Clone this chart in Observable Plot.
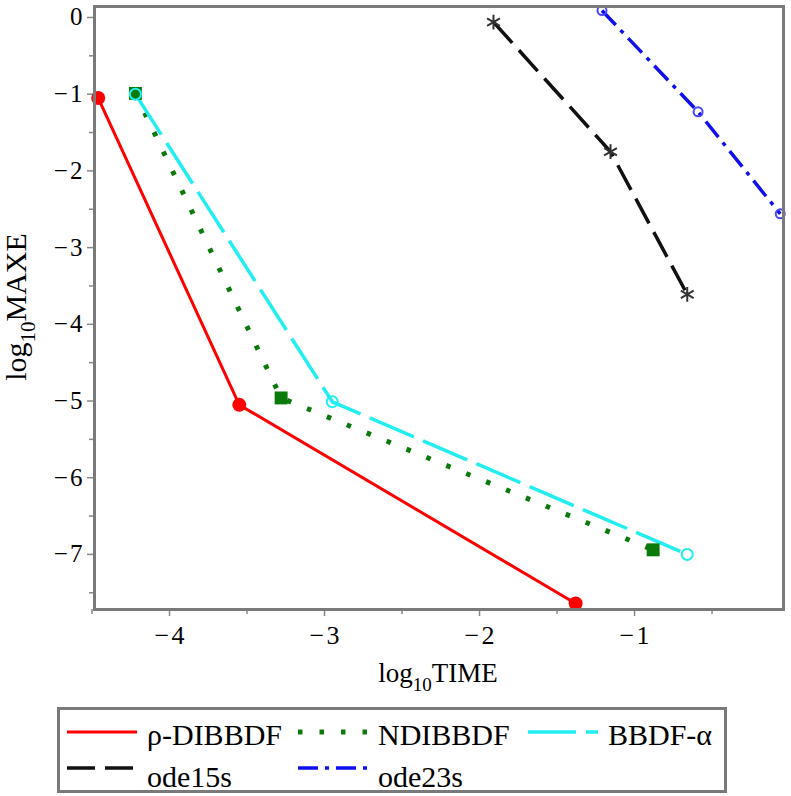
<!DOCTYPE html>
<html><head><meta charset="utf-8">
<script src="https://cdn.jsdelivr.net/npm/d3@7"></script>
<script src="https://cdn.jsdelivr.net/npm/@observablehq/plot@0.6"></script>
<style>
body{margin:0;background:#fff;}
#wrap{position:relative;width:791px;height:796px;overflow:hidden;}
#legend{position:absolute;left:57px;top:707px;width:670px;height:86px;box-sizing:border-box;border:3px solid #7a7a7a;}
svg text{font-family:"Liberation Serif","Times New Roman",serif !important;}
</style></head><body><div id="wrap"></div>
<script>
// Series names
const methods = ["ρ-DIBBDF", "NDIBBDF", "BBDF-α", "ode15s", "ode23s"];
// log10 TIME (x) and log10 MAXE (y) per method
const rhoTime  = [-4.46, -3.55, -1.38];
const rhoErr   = [-1.05, -5.05, -7.64];
const ndiTime  = [-4.22, -3.28, -0.88];
const ndiErr   = [-0.99, -4.96, -6.94];
const bbdfTime = [-4.22, -2.95, -0.66];
const bbdfErr  = [-1.00, -5.01, -7.00];
const o15Time  = [-1.91, -1.155, -0.66];
const o15Err   = [-0.06, -1.75, -3.61];
const o23Time  = [-1.21, -0.59, -0.06];
const o23Err   = [0.09, -1.23, -2.56];
// Axis ticks
const xTicks = [-4, -3, -2, -1];
const xMinor = [-4.5, -3.5, -2.5, -1.5, -0.5];
const yTicks = [0, -1, -2, -3, -4, -5, -6, -7];
const yMinor = [-0.5, -1.5, -2.5, -3.5, -4.5, -5.5, -6.5, -7.5];

const mk = (t, e, name) => t.map((x, i) => ({x, y: e[i], name}));
const rho = mk(rhoTime, rhoErr, methods[0]);
const ndi = mk(ndiTime, ndiErr, methods[1]);
const bbdf = mk(bbdfTime, bbdfErr, methods[2]);
const o15 = mk(o15Time, o15Err, methods[3]);
const o23 = mk(o23Time, o23Err, methods[4]);

const FONT = "'Liberation Serif', 'Times New Roman', serif";
const RED = "#ff0000", GREEN = "#0a7a0a", CYAN = "#22eef2", BLACK = "#111", BLUE = "#1010ee";
const fmt = d => d === 0 ? "0" : "\u2212\u200A" + Math.abs(d);

const plot = Plot.plot({
  width: 791, height: 700,
  marginLeft: 94, marginRight: 8, marginTop: 6, marginBottom: 91,
  style: {fontFamily: FONT, fontSize: "26px", color: "#000", background: "#fff"},
  x: {domain: [-4.484, -0.039]},
  y: {domain: [-7.718, 0.143]},
  marks: [
    Plot.axisX({ticks: xMinor, tickSize: 5, text: null, stroke: "#888", strokeWidth: 1.5, label: null}),
    Plot.axisX({ticks: xTicks, tickSize: 7, tickPadding: 9, tickFormat: fmt, stroke: "#888", strokeWidth: 1.5, fontSize: 26, label: null}),
    Plot.axisY({ticks: yMinor.filter(v => v > -7.7), tickSize: 5, text: null, stroke: "#888", strokeWidth: 1.5, label: null}),
    Plot.axisY({ticks: yTicks, tickSize: 7, tickPadding: 5, tickFormat: fmt, stroke: "#888", strokeWidth: 1.5, fontSize: 25, label: null}),
    Plot.line(rho, {x: "x", y: "y", stroke: RED, strokeWidth: 3}),
    Plot.line(ndi, {x: "x", y: "y", stroke: GREEN, strokeWidth: 5, strokeDasharray: "4.5,17", strokeLinecap: "butt"}),
    Plot.line(bbdf, {x: "x", y: "y", stroke: CYAN, strokeWidth: 3.5, strokeDasharray: "48,10", strokeLinecap: "butt"}),
    Plot.line(o15, {x: "x", y: "y", stroke: BLACK, strokeWidth: 3.5, strokeDasharray: "28,10", strokeLinecap: "butt"}),
    Plot.line(o23, {x: "x", y: "y", stroke: BLUE, strokeWidth: 3.5, strokeDasharray: "20,7,4,7", strokeLinecap: "butt"}),
    Plot.dot(rho, {x: "x", y: "y", r: 7, fill: RED}),
    Plot.dot(ndi, {x: "x", y: "y", r: 7.3, symbol: "square", fill: GREEN}),
    Plot.dot(bbdf, {x: "x", y: "y", r: 5.5, stroke: CYAN, strokeWidth: 2, fill: "none"}),
    Plot.dot(o15, {x: "x", y: "y", r: 7, symbol: "asterisk", stroke: "#333", strokeWidth: 2}),
    Plot.dot(o23, {x: "x", y: "y", r: 4.5, stroke: "#4848ff", strokeWidth: 2, fill: "none"}),
    Plot.frame({stroke: "#7a7a7a", strokeWidth: 3})
  ]
});

const svg = d3.select(plot);
// x axis label with subscript
const xl = svg.append("text").attr("x", 438).attr("y", 682).attr("text-anchor", "middle")
  .attr("font-size", 27).attr("fill", "#000");
xl.append("tspan").text("log");
xl.append("tspan").attr("font-size", 19).attr("dy", 9).text("10");
xl.append("tspan").attr("dy", -9).text("TIME");
// y axis label with subscript
const yl = svg.append("text").attr("transform", "translate(26,307) rotate(-90)").attr("text-anchor", "middle")
  .attr("font-size", 30).attr("fill", "#000");
yl.append("tspan").text("log");
yl.append("tspan").attr("font-size", 21).attr("dy", 9).text("10");
yl.append("tspan").attr("dy", -9).text("MAXE");

const wrap = document.getElementById("wrap");
wrap.appendChild(plot);

// Legend below the chart
const legend = document.createElement("div");
legend.id = "legend";
wrap.appendChild(legend);
const lsvg = d3.select(legend).append("svg").attr("width", 664).attr("height", 80)
  .style("position", "absolute").style("left", "0").style("top", "0").style("overflow", "visible");
const items = [
  {name: methods[0], x: 7, y: 22, ty: 35, stroke: RED, dash: null, w: 3},
  {name: methods[1], x: 238, y: 22, ty: 35, stroke: GREEN, dash: "4.5,17", w: 5},
  {name: methods[2], x: 468, y: 22, ty: 35, stroke: CYAN, dash: "48,10", w: 3.5},
  {name: methods[3], x: 7, y: 58, ty: 77, stroke: BLACK, dash: "28,10", w: 3.5},
  {name: methods[4], x: 238, y: 58, ty: 77, stroke: BLUE, dash: "20,7,4,7", w: 3.5}
];
for (const it of items) {
  const ln = lsvg.append("line").attr("x1", it.x).attr("x2", it.x + 70).attr("y1", it.y).attr("y2", it.y)
    .attr("stroke", it.stroke).attr("stroke-width", it.w);
  if (it.dash) ln.attr("stroke-dasharray", it.dash);
  lsvg.append("text").attr("x", it.x + 80).attr("y", it.ty)
    .attr("font-size", 30).attr("fill", "#000").text(it.name);
}
</script></body></html>
